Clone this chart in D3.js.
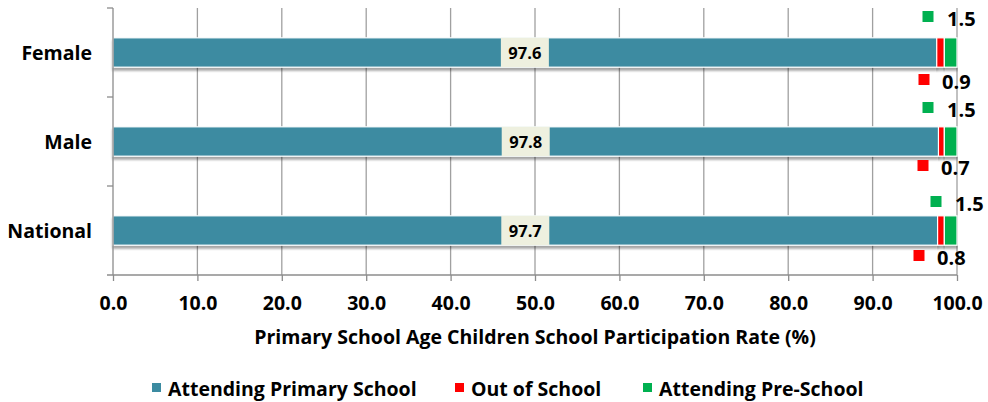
<!DOCTYPE html>
<html>
<head>
<meta charset="utf-8">
<script src="https://cdn.jsdelivr.net/npm/d3@7"></script>
<style>
  html, body { margin: 0; padding: 0; background: #fff; }
  svg { display: block; }
  text { font-family: "Open Sans", sans-serif; font-weight: bold; fill: #000; }
</style>
</head>
<body>
<svg id="chart" width="988" height="402"></svg>
<script>
// ---- data ----
const categories = ["Female", "Male", "National"];
const attendingPrimary = [97.6, 97.8, 97.7];
const outOfSchool = [0.9, 0.7, 0.8];
const attendingPreSchool = [1.5, 1.5, 1.5];
const seriesNames = ["Attending Primary School", "Out of School", "Attending Pre-School"];
const seriesColors = ["#3C8BA1", "#FF0000", "#00B050"];
const xTicks = [0, 10, 20, 30, 40, 50, 60, 70, 80, 90, 100];
const axisTitle = "Primary School Age Children School Participation Rate (%)";

// label placement (manually-moved labels in the original)
const preLabelOffset = [{dx: -29, dy: -36}, {dx: -29, dy: -34}, {dx: -21, dy: -29}];
const outLabelOffset = [{dx: -33, dy: 27}, {dx: -34, dy: 24}, {dx: -38, dy: 25}];

const FONT = '"Open Sans", sans-serif';
const svg = d3.select("#chart");
const margin = {left: 113, right: 31, top: 8, bottom: 127};
const W = 988, H = 402;

const x = d3.scaleLinear().domain([0, 100]).range([margin.left, W - margin.right]);
const y = d3.scaleBand().domain(categories).range([margin.top, H - margin.bottom]).paddingInner(0.67).paddingOuter(0.335);

const defs = svg.append("defs");
const f = defs.append("filter").attr("id", "shadow").attr("x", "-5%").attr("y", "-30%").attr("width", "110%").attr("height", "180%");
f.append("feDropShadow").attr("dx", 0).attr("dy", 3).attr("stdDeviation", 1.2).attr("flood-color", "#000").attr("flood-opacity", 0.35);

// gridlines
svg.append("g").selectAll("line").data(xTicks.slice(1)).join("line")
  .attr("x1", d => x(d)).attr("x2", d => x(d))
  .attr("y1", margin.top).attr("y2", H - margin.bottom)
  .attr("stroke", "#a0a0a0").attr("stroke-width", 1.3);

// stacked data
const rows = categories.map((c, i) => ({cat: c, vals: [attendingPrimary[i], outOfSchool[i], attendingPreSchool[i]]}));
const stack = d3.stack().keys([0, 1, 2]).value((d, k) => d.vals[k]);
const stacked = stack(rows);

const barsG = svg.append("g");
stacked.forEach((layer, k) => {
  barsG.append("g").selectAll("rect").data(layer).join("rect")
    .attr("x", d => x(d[0]))
    .attr("width", d => x(d[1]) - x(d[0]))
    .attr("y", d => y(d.data.cat))
    .attr("height", y.bandwidth())
    .attr("fill", seriesColors[k])
    .attr("stroke", "#fff").attr("stroke-width", 1.2)
    .attr("filter", "url(#shadow)");
});

// axes
const xAxis = d3.axisBottom(x).tickValues(xTicks).tickFormat(d3.format(".1f")).tickSize(6).tickPadding(15);
const gx = svg.append("g").attr("transform", `translate(0,${H - margin.bottom})`).call(xAxis);
gx.select(".domain").attr("stroke", "#8c8c8c").attr("stroke-width", 1.3).attr("d", `M${margin.left - 6},0H${W - margin.right}`);
gx.selectAll(".tick line").attr("stroke", "#8c8c8c").attr("stroke-width", 1.3);
gx.selectAll(".tick text").style("font-size", "19.5px").style("font-family", FONT).style("font-weight", "bold").attr("fill", "#000");

// y axis line + separators
const yG = svg.append("g");
yG.append("line").attr("x1", margin.left).attr("x2", margin.left).attr("y1", margin.top).attr("y2", H - margin.bottom)
  .attr("stroke", "#8c8c8c").attr("stroke-width", 1.3);
const step = y.step();
const sepYs = d3.range(categories.length).map(i => y(categories[i]) - y.paddingOuter() * step);
yG.selectAll("line.sep").data(sepYs).join("line").attr("class", "sep")
  .attr("x1", margin.left - 6).attr("x2", margin.left).attr("y1", d => d).attr("y2", d => d)
  .attr("stroke", "#8c8c8c").attr("stroke-width", 1.3);
yG.selectAll("text").data(categories).join("text")
  .attr("x", margin.left - 21).attr("y", d => y(d) + y.bandwidth() / 2)
  .attr("text-anchor", "end").attr("dominant-baseline", "central")
  .style("font-size", "19.5px").text(d => d);

// primary labels centered
const lblG = svg.append("g");
rows.forEach((r, i) => {
  const cx = (x(0) + x(r.vals[0])) / 2;
  const cy = y(r.cat) + y.bandwidth() / 2;
  lblG.append("rect").attr("x", cx - 24).attr("y", y(r.cat)).attr("width", 48).attr("height", y.bandwidth()).attr("fill", "#EEF0DF");
  lblG.append("text").attr("x", cx).attr("y", cy).attr("text-anchor", "middle").attr("dominant-baseline", "central")
    .style("font-size", "16.5px").text(d3.format(".1f")(r.vals[0]));
});

// out of school & pre-school labels with legend keys
rows.forEach((r, i) => {
  const endX = x(100);
  const cy = y(r.cat) + y.bandwidth() / 2;
  const pre = preLabelOffset[i], out = outLabelOffset[i];
  // pre-school
  lblG.append("rect").attr("x", endX + pre.dx - 5.5).attr("y", cy + pre.dy - 5.5).attr("width", 11).attr("height", 11).attr("fill", seriesColors[2]);
  lblG.append("text").attr("x", endX + pre.dx + 19).attr("y", cy + pre.dy + 1.5).attr("dominant-baseline", "central")
    .style("font-size", "20px").text(d3.format(".1f")(r.vals[2]));
  // out of school
  lblG.append("rect").attr("x", endX + out.dx - 5.5).attr("y", cy + out.dy - 5.5).attr("width", 11).attr("height", 11).attr("fill", seriesColors[1]);
  lblG.append("text").attr("x", endX + out.dx + 18).attr("y", cy + out.dy + 2).attr("dominant-baseline", "central")
    .style("font-size", "20px").text(d3.format(".1f")(r.vals[1]));
});

// axis title
svg.append("text").attr("x", 535).attr("y", 336).attr("text-anchor", "middle").attr("dominant-baseline", "central")
  .style("font-size", "19.5px").text(axisTitle);

// legend
const legendX = [152, 455, 643];
const lg = svg.append("g");
seriesNames.forEach((n, k) => {
  lg.append("rect").attr("x", legendX[k]).attr("y", 383).attr("width", 9).attr("height", 9).attr("fill", seriesColors[k]);
  lg.append("text").attr("x", legendX[k] + 16).attr("y", 388).attr("dominant-baseline", "central")
    .style("font-size", "19.5px").text(n);
});
</script>
</body>
</html>
